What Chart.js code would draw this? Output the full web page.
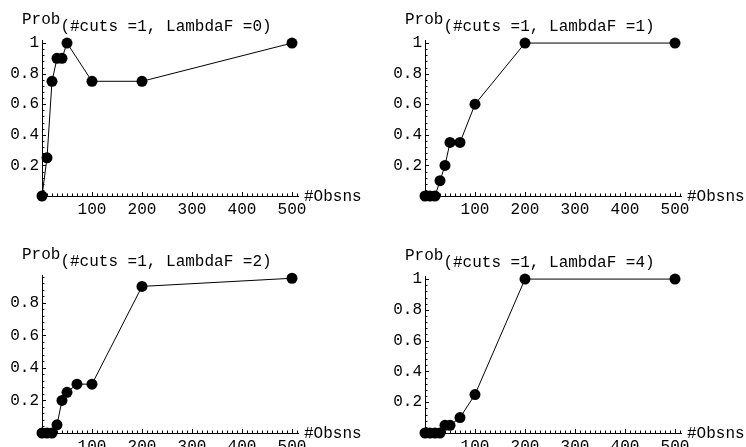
<!DOCTYPE html>
<html>
<head>
<meta charset="utf-8">
<script src="https://cdn.jsdelivr.net/npm/chart.js@4"></script>
<style>
    html, body { margin: 0; padding: 0; background: #fff; }
    #wrap { position: relative; width: 746px; height: 447px; overflow: hidden; }
    .panel { position: absolute; }
</style>
</head>
<body>
<div id="wrap">
    <div class="panel" style="left:0;top:0"><canvas id="c0" width="373" height="223"></canvas></div>
    <div class="panel" style="left:373px;top:0"><canvas id="c1" width="373" height="223"></canvas></div>
    <div class="panel" style="left:0;top:223px"><canvas id="c2" width="373" height="224"></canvas></div>
    <div class="panel" style="left:373px;top:223px"><canvas id="c3" width="373" height="224"></canvas></div>
</div>
<script>
// #Obsns values (x) for each panel
const obsLambda0 = [0, 10, 20, 30, 40, 50, 100, 200, 500];
const obsLambda1 = [0, 10, 20, 30, 40, 50, 70, 100, 200, 500];
const obsLambda2 = [0, 10, 20, 30, 40, 50, 70, 100, 200, 500];
const obsLambda4 = [0, 10, 20, 30, 40, 50, 70, 100, 200, 500];

// Prob values (y)
const probLambda0 = [0, 0.25, 0.75, 0.9, 0.9, 1, 0.75, 0.75, 1];
const probLambda1 = [0, 0, 0, 0.1, 0.2, 0.35, 0.35, 0.6, 1, 1];
const probLambda2 = [0, 0, 0, 0.05, 0.2, 0.25, 0.3, 0.3, 0.9, 0.95];
const probLambda4 = [0, 0, 0, 0, 0.05, 0.05, 0.1, 0.25, 1, 1];

const cuts = 1;
const lambdas = [0, 1, 2, 4];

// tick labels
const xTicks = [100, 200, 300, 400, 500];
const yTicks = [0.2, 0.4, 0.6, 0.8, 1];

const FONT = '"Liberation Mono", "Courier New", monospace';
const FONT_SIZE = 16;
const Y_AXIS_W = 40;   // room kept for the y tick labels
const X_AXIS_H = 24;   // room kept for the x tick labels

// tick marks + text labels round the axes
const decor = {
    id: "decor",
    beforeDatasetsDraw(chart) {
        const { ctx, chartArea: a, scales: { x, y } } = chart;
        ctx.save();
        ctx.strokeStyle = "#000";
        ctx.lineWidth = 1;
        ctx.beginPath();
        for (let v = 10; v <= x.max; v += 10) {
            const px = Math.round(x.getPixelForValue(v)) + 0.5;
            const len = v % 100 === 0 ? 4 : 2.5;
            ctx.moveTo(px, a.bottom);
            ctx.lineTo(px, a.bottom - len);
        }
        for (let k = 1; k * 0.04 <= y.max + 1e-9; k++) {
            const py = Math.round(y.getPixelForValue(k * 0.04)) + 0.5;
            const len = k % 5 === 0 ? 4 : 2.5;
            ctx.moveTo(a.left, py);
            ctx.lineTo(a.left + len, py);
        }
        ctx.stroke();
        ctx.restore();
    },
    afterDraw(chart, args, opts) {
        const { ctx, chartArea: a } = chart;
        ctx.save();
        ctx.font = FONT_SIZE + "px " + FONT;
        ctx.fillStyle = "#000";
        ctx.textAlign = "left";
        ctx.textBaseline = "alphabetic";
        const px = a.left - 20;
        ctx.fillText("Prob", px, a.top - 16);
        ctx.fillText(opts.label, px + ctx.measureText("Prob").width, a.top - 9);
        ctx.fillText("#Obsns", a.right + 6, a.bottom + 5);
        ctx.restore();
    }
};

function makeChart(id, xs, ys, lambda, box) {
    const canvas = document.getElementById(id);
    const w = canvas.width, h = canvas.height;
    const points = xs.map((v, i) => ({ x: v, y: ys[i] }));

    new Chart(canvas.getContext("2d"), {
        type: "line",
        data: {
            datasets: [{
                data: points,
                borderColor: "#000",
                borderWidth: 1,
                backgroundColor: "#000",
                pointRadius: 5.5,
                pointBorderWidth: 0,
                pointBackgroundColor: "#000",
                tension: 0,
                clip: false
            }]
        },
        options: {
            responsive: false,
            animation: false,
            devicePixelRatio: 1,
            layout: {
                padding: {
                    left: box.left - Y_AXIS_W,
                    right: w - box.right,
                    top: box.top,
                    bottom: h - box.bottom - X_AXIS_H
                }
            },
            plugins: {
                legend: { display: false },
                tooltip: { enabled: false },
                decor: { label: `(#cuts =${cuts}, LambdaF =${lambda})` }
            },
            scales: {
                x: {
                    type: "linear",
                    min: 0,
                    max: 512,
                    grid: { display: false, drawTicks: false },
                    border: { display: true, color: "#000", width: 1 },
                    afterBuildTicks: s => { s.ticks = xTicks.map(v => ({ value: v })); },
                    afterFit: s => { s.height = X_AXIS_H; },
                    ticks: {
                        autoSkip: false,
                        maxRotation: 0,
                        padding: 4,
                        color: "#000",
                        font: { family: FONT, size: FONT_SIZE },
                        callback: v => String(v)
                    }
                },
                y: {
                    type: "linear",
                    min: 0,
                    max: box.yMax,
                    grid: { display: false, drawTicks: false },
                    border: { display: true, color: "#000", width: 1 },
                    afterBuildTicks: s => { s.ticks = yTicks.filter(v => v <= box.yMax).map(v => ({ value: v })); },
                    afterFit: s => { s.width = Y_AXIS_W; },
                    ticks: {
                        autoSkip: false,
                        padding: 3,
                        color: "#000",
                        font: { family: FONT, size: FONT_SIZE },
                        callback: v => String(v)
                    }
                }
            }
        },
        plugins: [decor]
    });
}

makeChart("c0", obsLambda0, probLambda0, lambdas[0], { left: 42, right: 298, top: 40, bottom: 196, yMax: 1.02 });
makeChart("c1", obsLambda1, probLambda1, lambdas[1], { left: 52, right: 308, top: 40, bottom: 196, yMax: 1.02 });
makeChart("c2", obsLambda2, probLambda2, lambdas[2], { left: 42, right: 298, top: 52, bottom: 210, yMax: 0.97 });
makeChart("c3", obsLambda4, probLambda4, lambdas[3], { left: 52, right: 308, top: 53, bottom: 210, yMax: 1.02 });
</script>
</body>
</html>
